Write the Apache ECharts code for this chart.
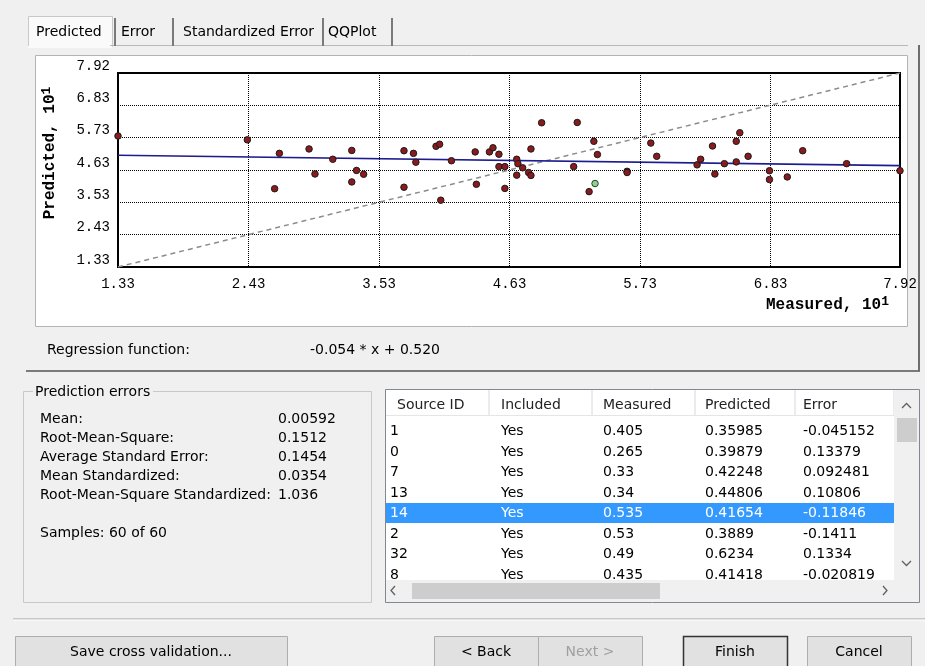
<!DOCTYPE html>
<html>
<head>
<meta charset="utf-8">
<script src="https://cdn.jsdelivr.net/npm/echarts@6/dist/echarts.min.js"></script>
<style>
html,body{margin:0;padding:0;background:#f0f0f0;}
#c{width:925px;height:666px;}
</style>
</head>
<body>
<div id="c"></div>
<script>
// ---------- data ----------
const axisTicks = [1.33, 2.43, 3.53, 4.63, 5.73, 6.83, 7.92];
const axisMin = 1.33, axisMax = 7.92;
const measuredX = [1.33,2.42,2.69,2.65,2.94,2.99,3.14,3.30,3.34,3.40,3.30,3.74,3.82,3.84,3.74,4.01,4.04,4.05,4.14,4.34,
  4.35,4.46,4.49,4.54,4.54,4.59,4.59,4.69,4.70,4.69,4.74,4.79,4.81,4.81,4.90,5.20,5.17,5.30,5.34,5.37,
  5.62,5.62,5.82,5.87,6.21,6.24,6.34,6.36,6.44,6.54,6.54,6.57,6.64,6.82,6.82,6.97,7.10,7.47,7.92];
const predictedY = [5.78,5.65,5.19,3.99,5.34,4.49,4.99,5.29,4.61,4.48,4.22,5.28,5.19,4.89,4.04,5.43,5.50,3.60,4.94,5.24,
  4.14,5.24,5.38,5.16,4.74,4.74,4.00,4.99,4.84,4.45,4.70,4.54,4.44,5.34,6.23,6.24,4.74,3.89,5.60,5.15,
  4.58,4.54,5.54,5.09,4.80,4.99,5.44,4.49,4.84,4.90,5.60,5.89,5.09,4.60,4.30,4.39,5.28,4.84,4.60];
const unitScale = 10;
const regressionSlope = -0.054, regressionIntercept = 0.520;

const tabLabels = ['Predicted', 'Error', 'Standardized Error', 'QQPlot'];
const statLabels = ['Mean:', 'Root-Mean-Square:', 'Average Standard Error:', 'Mean Standardized:', 'Root-Mean-Square Standardized:'];
const statValues = ['0.00592', '0.1512', '0.1454', '0.0354', '1.036'];
const samplesText = 'Samples: 60 of 60';

const tableHeaders = ['Source ID', 'Included', 'Measured', 'Predicted', 'Error'];
const tableIds = ['1','0','7','13','14','2','32','8'];
const tableIncluded = ['Yes','Yes','Yes','Yes','Yes','Yes','Yes','Yes'];
const tableMeasured = ['0.405','0.265','0.33','0.34','0.535','0.53','0.49','0.435'];
const tablePredicted = ['0.35985','0.39879','0.42248','0.44806','0.41654','0.3889','0.6234','0.41418'];
const tableError = ['-0.045152','0.13379','0.092481','0.10806','-0.11846','-0.1411','0.1334','-0.020819'];
const selectedRow = 4;
const buttonLabels = ['Save cross validation...', '< Back', 'Next >', 'Finish', 'Cancel'];

// ---------- build ----------
const UI = '14px "DejaVu Sans"';
const pts = measuredX.map((x, i) => [x, predictedY[i]]);
const selPt = [[parseFloat(tableMeasured[selectedRow]) * unitScale, parseFloat(tablePredicted[selectedRow]) * unitScale]];
const regY = x => (regressionSlope * (x / unitScale) + regressionIntercept) * unitScale;
const regLine = [[axisMin, regY(axisMin)], [axisMax, regY(axisMax)]];
const refLine = [[axisMin, axisMin], [axisMax, axisMax]];

const G = [];
function rect(x, y, w, h, fill, stroke, z, lw) {
  G.push({type: 'rect', z: z == null ? -5 : z, shape: {x, y, width: w, height: h},
    style: {fill: fill || 'none', stroke: stroke || null, lineWidth: lw || 1}, silent: true});
}
function line(x1, y1, x2, y2, stroke, lw, z) {
  G.push({type: 'line', z: z == null ? -4 : z, shape: {x1, y1, x2, y2}, style: {stroke, lineWidth: lw || 1}, silent: true});
}
function chevron(p, z) {
  G.push({type: 'polyline', z: z, shape: {points: p}, style: {stroke: '#606060', lineWidth: 1.3, fill: 'none'}, silent: true});
}
function text(t, x, y, opts) {
  opts = opts || {};
  G.push({type: 'text', z: opts.z == null ? 5 : opts.z, x, y, rotation: opts.rot || 0,
    style: {text: t, font: opts.font || UI, fill: opts.fill || '#000', align: opts.align || 'left',
      verticalAlign: opts.va || 'middle', rich: opts.rich}, silent: true});
}

// tab panel
rect(35.5, 55.5, 872, 271, '#ffffff', '#b4b4b4', -20);
line(26, 371, 920, 371, '#7a7a7a', 2, -4);
line(919, 45, 919, 371, '#6e6e6e', 2, -4);
line(110, 45.5, 908, 45.5, '#b8b8b8', 1, -4);
// tabs
rect(28.5, 16.5, 84, 30, '#fafafa', '#c8c8c8', -6);
line(28, 47, 112, 47, '#fafafa', 2, -3);
[115, 173, 323, 392].forEach(x => line(x, 18, x, 46, '#7a7a7a', 2, -4));
const tabX = [36, 121, 183, 328];
tabLabels.forEach((t, i) => text(t, tabX[i], 32));

// axis names
const axFont = 'bold 16px "Liberation Mono"';
const supRich = {b: {font: axFont, lineHeight: 20}, s: {font: 'bold 13px "Liberation Mono"', verticalAlign: 'top', lineHeight: 20}};
text('{b|Predicted, 10}{s|1}', 50, 153, {rot: Math.PI / 2, align: 'center', rich: supRich});
text('{b|Measured, 10}{s|1}', 889, 305, {align: 'right', rich: supRich});

// regression text
text('Regression function:', 47, 350);
text('-0.054 * x + 0.520', 310, 350);

// prediction errors group
rect(23.5, 391.5, 348, 211, null, '#c8c8c8', -4);
rect(33, 383, 120, 18, '#f0f0f0', null, -3);
text('Prediction errors', 35, 392);
const statY = [419, 438, 457, 476, 495];
statLabels.forEach((t, i) => { text(t, 40, statY[i]); text(statValues[i], 278, statY[i]); });
text(samplesText, 40, 533);

// table
rect(385.5, 389.5, 534, 213, '#ffffff', '#828790', -6);
const colSep = [489, 592, 695, 795, 894];
colSep.forEach(x => line(x, 390, x, 415, '#d8d8d8', 1, -4));
line(386, 415.5, 894, 415.5, '#e5e5e5', 1, -4);
const colX = [390, 501, 603, 705, 803];
tableHeaders.forEach((t, i) => text(t, colX[i] + (i === 0 ? 7 : 0), 405, {fill: '#222'}));
const rowY = [431, 452, 472, 493, 513, 534, 554, 575];
rect(386, 503, 508, 20, '#3399ff', null, -3);
const cols = [tableIds, tableIncluded, tableMeasured, tablePredicted, tableError];
rowY.forEach((y, r) => cols.forEach((c, k) => text(c[r], colX[k], y, {fill: r === selectedRow ? '#ffffff' : '#000', z: 4})));
// scrollbars
rect(386, 580, 508, 22, '#f0f0f0', null, 6);
rect(412, 583, 248, 16, '#cdcdcd', null, 7);
chevron([[395, 586], [391, 590.5], [395, 595]], 8);
chevron([[883, 586], [887, 590.5], [883, 595]], 8);
rect(894, 390, 25, 212, '#f0f0f0', null, 6);
rect(897, 418, 20, 24, '#cdcdcd', null, 7);
chevron([[902, 408], [906.5, 403.5], [911, 408]], 8);
chevron([[902, 561], [906.5, 565.5], [911, 561]], 8);

// bottom
line(13, 619, 925, 619, '#a0a0a0', 1, -4);
line(13, 620, 925, 620, '#ffffff', 1, -4);
const btn = [[15, 272], [434, 104], [538, 104], [683, 104], [807, 104]];
btn.forEach((b, i) => {
  rect(b[0] + 0.5, 636.5, b[1], 34, '#e1e1e1', i === 3 ? '#333333' : '#adadad', -4, i === 3 ? 1.5 : 1);
  text(buttonLabels[i], b[0] + b[1] / 2, 652, {align: 'center', fill: i === 2 ? '#a0a0a0' : '#000'});
});

const chart = echarts.init(document.getElementById('c'), null, {renderer: 'canvas'});
const tickFont = {fontFamily: 'Liberation Mono', fontSize: 14, color: '#000'};
chart.setOption({
  backgroundColor: '#f0f0f0',
  animation: false,
  graphic: G,
  grid: {left: 118, top: 73, width: 782, height: 194, show: true, borderColor: '#000', borderWidth: 2, backgroundColor: 'transparent'},
  xAxis: {
    type: 'value', min: axisMin, max: axisMax,
    axisLine: {show: true, lineStyle: {color: '#000', width: 2}},
    axisTick: {show: false, customValues: axisTicks},
    axisLabel: {customValues: axisTicks, formatter: v => v.toFixed(2), margin: 10, ...tickFont},
    splitLine: {show: true, lineStyle: {color: '#000', type: [1, 1], width: 1}}
  },
  yAxis: {
    type: 'value', min: axisMin, max: axisMax,
    axisLine: {show: true, lineStyle: {color: '#000', width: 2}},
    axisTick: {show: false, customValues: axisTicks},
    axisLabel: {customValues: axisTicks, formatter: v => v.toFixed(2), margin: 8, verticalAlign: 'bottom', ...tickFont},
    splitLine: {show: true, lineStyle: {color: '#000', type: [1, 1], width: 1}}
  },
  series: [
    {type: 'line', data: refLine, symbol: 'none', silent: true, z: 2,
      lineStyle: {color: '#8c8c8c', width: 1.5, type: [5, 4]}},
    {type: 'line', data: regLine, symbol: 'none', silent: true, z: 3,
      lineStyle: {color: '#1c1c90', width: 1.6}},
    {type: 'scatter', data: pts, symbolSize: 6.5, z: 4, clip: false,
      itemStyle: {color: '#8b1a1e', borderColor: '#1a1a1a', borderWidth: 1, opacity: 1}},
    {type: 'scatter', data: selPt, symbolSize: 6.5, z: 5,
      itemStyle: {color: '#8fd18f', borderColor: '#244424', borderWidth: 1, opacity: 1}}
  ]
});
</script>
</body>
</html>
